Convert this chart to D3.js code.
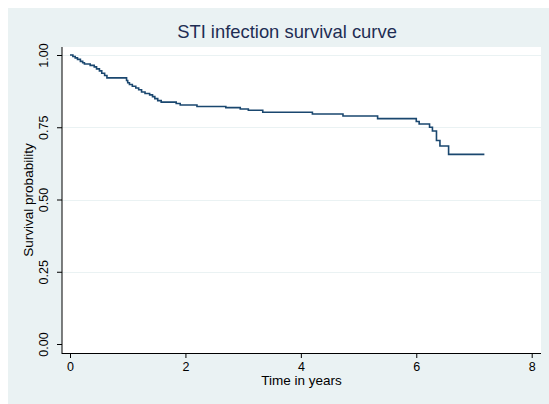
<!DOCTYPE html>
<html>
  <head>
    <title>STI infection survival curve</title>
    <style>
      body { margin: 0; background: #fff; }
      svg text { font-family: "Liberation Sans", Arial, sans-serif; }
    </style>
  </head>
  <body>
    <div id="chart"></div>

    <script src="https://d3js.org/d3.v7.min.js"></script>
    <script>
      // Kaplan-Meier estimate (time in years, survival after the step)
      const times = [0, 0.05, 0.09, 0.13, 0.18, 0.22, 0.25, 0.35, 0.42, 0.46, 0.51, 0.55, 0.60, 0.64,
        0.98, 1.00, 1.03, 1.08, 1.14, 1.19, 1.24, 1.30, 1.38, 1.43, 1.47, 1.52, 1.58, 1.84, 1.91,
        2.20, 2.70, 2.95, 3.09, 3.34, 4.20, 4.73, 5.33, 6.00, 6.05, 6.23, 6.28, 6.35, 6.41, 6.56, 7.18]
      const survival = [1.000, 0.995, 0.990, 0.985, 0.978, 0.973, 0.969, 0.964, 0.959, 0.952, 0.945, 0.937, 0.929, 0.921,
        0.912, 0.904, 0.898, 0.892, 0.886, 0.880, 0.872, 0.867, 0.862, 0.856, 0.849, 0.842, 0.837, 0.832, 0.827,
        0.822, 0.818, 0.813, 0.809, 0.802, 0.796, 0.789, 0.780, 0.770, 0.761, 0.750, 0.737, 0.704, 0.685, 0.656, 0.656]

      const xTicks = [0, 2, 4, 6, 8]
      const yTicks = [0, 0.25, 0.5, 0.75, 1]
      const yTickLabels = ["0.00", "0.25", "0.50", "0.75", "1.00"]

      const W = 549, H = 404
      // plot region (white box)
      const plot = { left: 62, right: 541, top: 47, bottom: 353 }

      const svg = d3.select("#chart").append("svg")
        .attr("width", W)
        .attr("height", H)

      // graph region background
      svg.append("rect")
        .attr("x", 8).attr("y", 8)
        .attr("width", W - 8).attr("height", H - 8)
        .attr("fill", "#eaf2f3")

      svg.append("rect")
        .attr("x", plot.left).attr("y", plot.top)
        .attr("width", plot.right - plot.left).attr("height", plot.bottom - plot.top)
        .attr("fill", "#fff")

      const x = d3.scaleLinear().domain([0, 8]).range([70, 531.7])
      const y = d3.scaleLinear().domain([0, 1]).range([344, 55])

      // grid lines
      svg.append("g")
        .selectAll("line")
        .data(yTicks.filter(d => d > 0))
        .join("line")
        .attr("x1", plot.left).attr("x2", plot.right)
        .attr("y1", d => Math.round(y(d)) + 0.5).attr("y2", d => Math.round(y(d)) + 0.5)
        .attr("stroke", "#eaf2f3")
        .attr("stroke-width", 1)

      // x axis
      const gx = svg.append("g")
        .attr("transform", "translate(0," + plot.bottom + ")")
        .call(d3.axisBottom(x).tickValues(xTicks).tickSize(5).tickPadding(4).tickFormat(d3.format("d")))
      gx.select(".domain").remove()
      gx.selectAll("line").attr("stroke", "#000")
      gx.selectAll("text")
        .attr("font-size", 12.5)
        .attr("fill", "#000")
        .attr("font-family", "Liberation Sans, Arial, sans-serif")

      svg.append("line")
        .attr("x1", plot.left).attr("x2", plot.right)
        .attr("y1", plot.bottom + 0.5).attr("y2", plot.bottom + 0.5)
        .attr("stroke", "#000")

      // y axis
      const gy = svg.append("g")
        .attr("transform", "translate(" + plot.left + ",0)")
        .call(d3.axisLeft(y).tickValues(yTicks).tickSize(5).tickFormat((d, i) => yTickLabels[i]))
      gy.select(".domain").remove()
      gy.selectAll("line").attr("stroke", "#000")
      gy.selectAll("text")
        .attr("font-size", 12.5)
        .attr("fill", "#000")
        .attr("font-family", "Liberation Sans, Arial, sans-serif")
        .attr("x", null).attr("dy", null)
        .attr("text-anchor", "middle")
        .attr("transform", "translate(-14,0) rotate(-90)")

      svg.append("line")
        .attr("x1", plot.left).attr("x2", plot.left)
        .attr("y1", plot.top).attr("y2", plot.bottom + 1)
        .attr("stroke", "#000")

      // axis titles
      svg.append("text")
        .attr("x", (plot.left + plot.right) / 2)
        .attr("y", 385)
        .attr("text-anchor", "middle")
        .attr("font-size", 13.5)
        .text("Time in years")

      svg.append("text")
        .attr("transform", "translate(33," + (plot.top + plot.bottom) / 2 + ") rotate(-90)")
        .attr("text-anchor", "middle")
        .attr("font-size", 13.5)
        .text("Survival probability")

      // title
      svg.append("text")
        .attr("x", 287)
        .attr("y", 38)
        .attr("text-anchor", "middle")
        .attr("font-size", 18.4)
        .attr("fill", "#1e2d53")
        .text("STI infection survival curve")

      // survival step curve
      const line = d3.line()
        .x((d, i) => x(times[i]))
        .y(d => y(d))
        .curve(d3.curveStepAfter)

      svg.append("path")
        .attr("d", line(survival))
        .attr("fill", "none")
        .attr("stroke", "#1a476f")
        .attr("stroke-width", 1.6)
    </script>
  </body>
</html>
